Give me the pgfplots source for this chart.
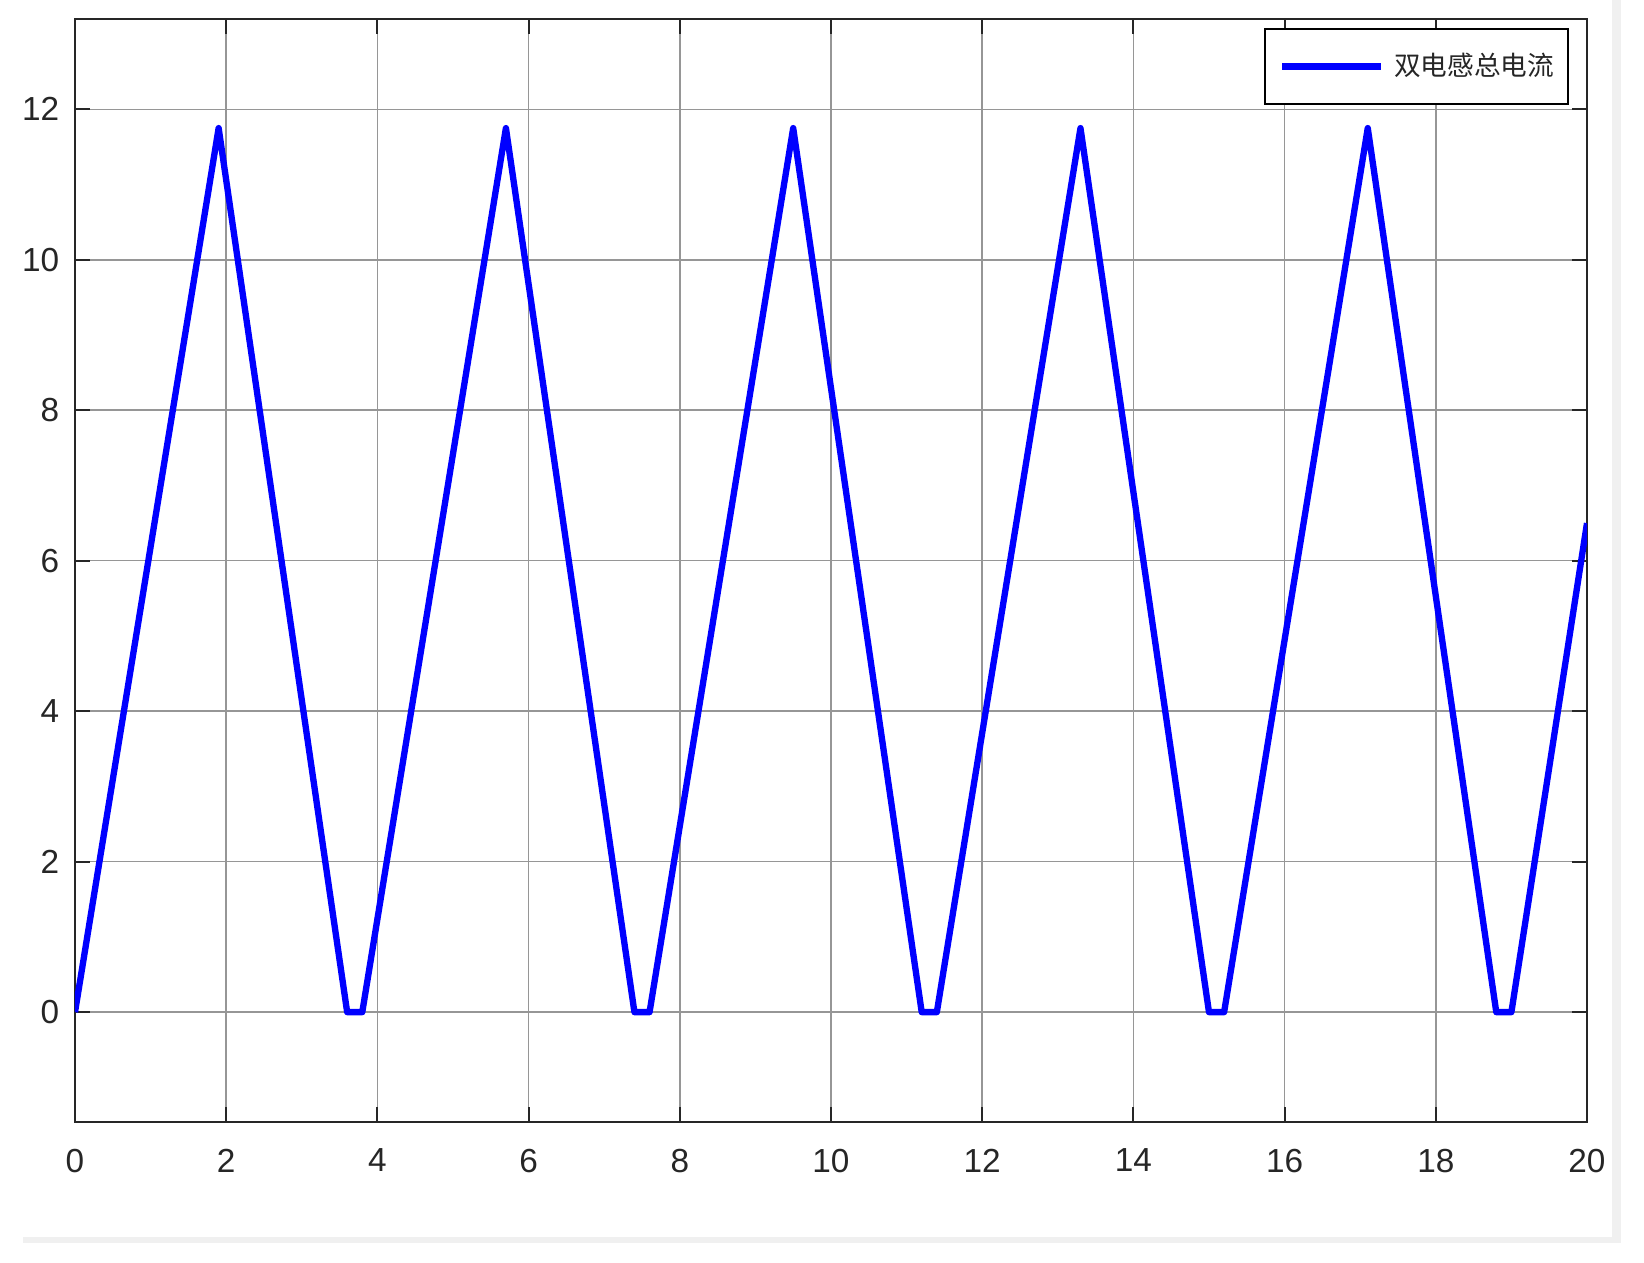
\documentclass[border=0pt]{standalone}
\usepackage{pgfplots}
\pgfplotsset{compat=1.18}
\usepackage{fontspec}
\setmainfont{Liberation Sans}
\newfontfamily\cjk{Noto Sans CJK SC}
\definecolor{axisgray}{RGB}{38,38,38}
\definecolor{gridgray}{RGB}{150,150,150}
\definecolor{framegray}{RGB}{240,240,240}
\begin{document}
\begin{tikzpicture}[x=0.3pt,y=0.3pt]
% canvas (1644 x 1262 px, 1 px = 0.3pt)
\fill[white] (0,0) rectangle (1644,1262);
\fill[framegray] (1612,19) rectangle (1621,1262);
\fill[framegray] (23,19) rectangle (1621,25);
\begin{axis}[
  at={(22.5pt,42pt)}, anchor=south west,
  scale only axis, width=453.6pt, height=330.9pt,
  xmin=0, xmax=20, ymin=-1.46, ymax=13.2,
  xtick={0,2,...,20}, ytick={0,2,...,12},
  grid=major,
  major grid style={gridgray, line width=0.45pt},
  axis line style={axisgray, line width=0.6pt},
  tick style={axisgray, line width=0.6pt},
  tick align=inside, major tick length=4.5pt,
  /pgf/number format/assume math mode=true,
  ticklabel style={font=\fontsize{10}{12}\selectfont, text=axisgray},
  xticklabel style={yshift=-4.5pt},
  yticklabel style={xshift=-1.2pt},
  legend style={at={(1,1)}, anchor=north east, xshift=-5.4pt, yshift=-2.6pt,
    draw=black, line width=0.6pt, fill=white,
    inner xsep=4.2pt, inner ysep=7.2pt,
    nodes={inner sep=0pt, text=axisgray},
    font=\cjk\fontsize{8}{10}\selectfont,
    column sep=3pt},
  legend image code/.code={\draw[#1, line width=2pt] (0pt,0pt) -- (29.5pt,0pt);},
  legend cell align=left,
]
\addplot[color={rgb,255:red,0;green,0;blue,255}, line width=1.9pt, line join=round] coordinates {
 (0,0) (1.9,11.75) (3.6,0) (3.8,0) (5.7,11.75) (7.4,0) (7.6,0) (9.5,11.75)
 (11.2,0) (11.4,0) (13.3,11.75) (15.0,0) (15.2,0) (17.1,11.75) (18.8,0) (19.0,0) (20,6.5)
};
\addlegendentry{双电感总电流}
\end{axis}
\end{tikzpicture}
\end{document}
